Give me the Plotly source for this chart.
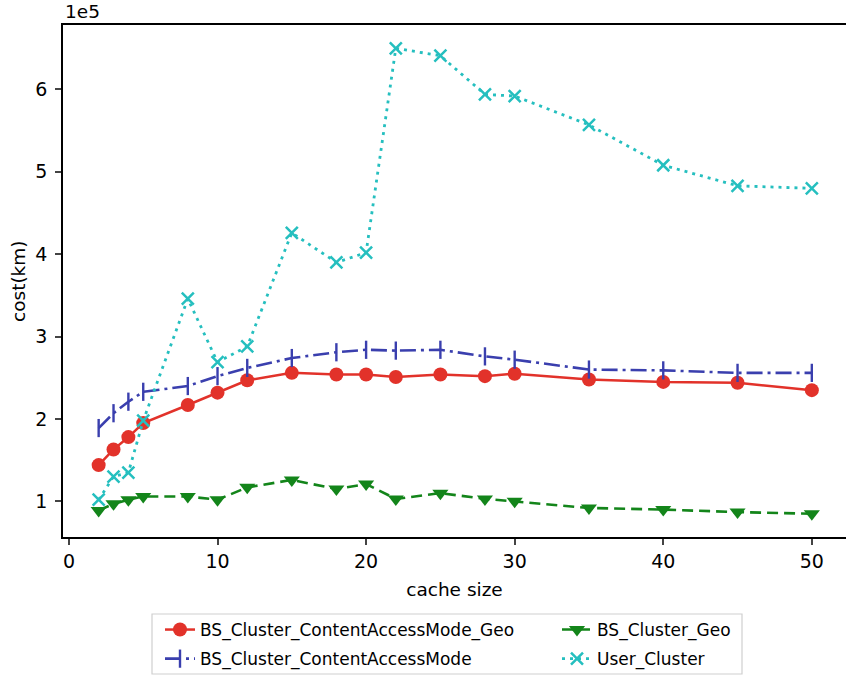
import plotly.graph_objects as go

# cache sizes on the x axis
cache_size = [2, 3, 4, 5, 8, 10, 12, 15, 18, 20, 22, 25, 28, 30, 35, 40, 45, 50]

# cost in km for each clustering strategy
bs_cam_geo = [144000, 163000, 178000, 195000, 217000, 232000, 247000, 256000, 254000,
              254000, 251000, 254000, 252000, 255000, 248000, 245000, 244000, 235000]
bs_cam = [189000, 207000, 221000, 233000, 240000, 252000, 262000, 274000, 281000,
          284000, 283000, 284000, 276000, 272000, 260000, 259000, 256000, 256000]
bs_geo = [89000, 97000, 102000, 106000, 106000, 102000, 117000, 126000, 115000,
          121000, 103000, 110000, 103000, 100000, 92000, 90000, 87000, 85000]
user_cluster = [102000, 130000, 135000, 198000, 346000, 269000, 288000, 426000, 390000,
                402000, 650000, 641000, 594000, 592000, 557000, 508000, 483000, 480000]

y_ticks = [100000, 200000, 300000, 400000, 500000, 600000]
y_tick_text = ["1", "2", "3", "4", "5", "6"]
x_ticks = [0, 10, 20, 30, 40, 50]

FONT = "DejaVu Sans"
W, H = 846, 676
ML, MT, MB = 63, 25, 139

RED, BLUE, GREEN, CYAN = "#e2322a", "#3a3fae", "#13851a", "#25bfbf"

fig = go.Figure()
fig.add_trace(go.Scatter(
    x=cache_size, y=bs_cam_geo, name="BS_Cluster_ContentAccessMode_Geo",
    mode="lines+markers", legend="legend", legendgroup="a",
    line=dict(color=RED, width=2.5, dash="solid"),
    marker=dict(symbol="circle", size=14, color=RED),
))
fig.add_trace(go.Scatter(
    x=cache_size, y=bs_cam, name="BS_Cluster_ContentAccessMode",
    mode="lines+markers", legend="legend", legendgroup="b",
    line=dict(color=BLUE, width=2.6, dash="16px,5px,3px,5px"),
    marker=dict(symbol="line-ns", size=13, line=dict(color=BLUE, width=2.4)),
))
fig.add_trace(go.Scatter(
    x=cache_size, y=bs_geo, name="BS_Cluster_Geo",
    mode="lines+markers", legend="legend2", legendgroup="c",
    line=dict(color=GREEN, width=2.6, dash="11px,6px"),
    marker=dict(symbol="triangle-down", size=14, color=GREEN),
))
fig.add_trace(go.Scatter(
    x=cache_size, y=user_cluster, name="User_Cluster",
    mode="lines+markers", legend="legend2", legendgroup="d",
    line=dict(color=CYAN, width=2.8, dash="3px,5px"),
    marker=dict(symbol="x-thin", size=12, line=dict(color=CYAN, width=2.5)),
))

legend_common = dict(
    orientation="v",
    xref="container", yref="container",
    yanchor="top", xanchor="left",
    y=1 - 612 / H,
    bgcolor="rgba(0,0,0,0)", borderwidth=0,
    font=dict(family=FONT, size=17),
    traceorder="grouped", tracegroupgap=4,
)

# legend frame spanning both legend columns
plot_w = W - ML
plot_h = H - MT - MB
fx0, fx1 = 152, 742
fy0, fy1 = 614, 674

fig.update_layout(
    width=W, height=H,
    margin=dict(l=ML, r=0, t=MT, b=MB, autoexpand=False),
    paper_bgcolor="white", plot_bgcolor="white",
    font=dict(family=FONT, color="black", size=19),
    showlegend=True,
    legend=dict(legend_common, x=160 / W),
    legend2=dict(legend_common, x=557 / W),
    xaxis=dict(
        range=[-0.4, 52.3],
        tickvals=x_ticks, ticks="outside", ticklen=6, tickwidth=1.5,
        showline=True, linecolor="black", linewidth=1.5, mirror=True,
        showgrid=False, zeroline=False,
        title=dict(text="cache size", standoff=13, font=dict(size=18.5)),
    ),
    yaxis=dict(
        range=[56750, 678250],
        tickvals=y_ticks, ticktext=y_tick_text,
        ticks="outside", ticklen=6, tickwidth=1.5, ticklabelstandoff=4,
        showline=True, linecolor="black", linewidth=1.5,
        showgrid=False, zeroline=False,
    ),
    shapes=[dict(
        type="rect", xref="paper", yref="paper",
        x0=(fx0 - ML) / plot_w, x1=(fx1 - ML) / plot_w,
        y0=(H - MB - fy0) / plot_h, y1=(H - MB - fy1) / plot_h,
        line=dict(color="#cfcfcf", width=1.2), fillcolor="rgba(0,0,0,0)",
    )],
    annotations=[
        dict(
            text="1e5", xref="paper", yref="paper", x=0, y=1,
            xanchor="left", yanchor="bottom", yshift=1, showarrow=False,
            font=dict(family=FONT, size=18.5),
        ),
        dict(
            text="cost(km)", xref="paper", yref="paper",
            x=(18 - ML) / plot_w, y=0.5, textangle=-90,
            xanchor="center", yanchor="middle", showarrow=False,
            font=dict(family=FONT, size=18.5),
        ),
    ],
)

fig.write_html("out.html")
